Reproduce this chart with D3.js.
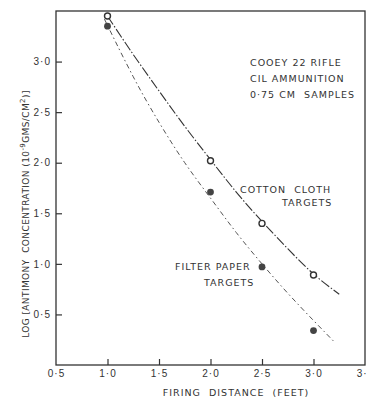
<!DOCTYPE html>
<html>
<head>
<meta charset="utf-8">
<script src="https://cdn.jsdelivr.net/npm/d3@7"></script>
<style>
  body { margin: 0; background: #fff; }
  svg { display: block; font-family: "DejaVu Sans", sans-serif; }
  .axis text { font-size: 10px; fill: #333; letter-spacing: 1px; }
  .axis line { stroke: #333; stroke-width: 1.2; }
  .note { font-size: 9.5px; fill: #333; letter-spacing: 1px; }
</style>
</head>
<body>
<div id="chart"></div>
<script>
// data
var distances = [1.0, 2.0, 2.5, 3.0];
var cottonValues = [3.45, 2.02, 1.40, 0.89];
var paperValues = [3.35, 1.71, 0.97, 0.34];

// fitted curves
var cottonFitX = [1.0, 1.25, 1.5, 1.75, 2.0, 2.25, 2.5, 2.75, 3.0, 3.25];
var cottonFitY = [3.45, 3.07, 2.71, 2.36, 2.03, 1.71, 1.42, 1.15, 0.90, 0.70];
var paperFitX = [0.97, 1.25, 1.5, 1.75, 2.0, 2.25, 2.5, 2.75, 3.0, 3.21];
var paperFitY = [3.42, 2.85, 2.40, 2.00, 1.65, 1.31, 1.00, 0.71, 0.44, 0.22];

var xTicks = [0.5, 1.0, 1.5, 2.0, 2.5, 3.0, 3.5];
var yTicks = [0.5, 1.0, 1.5, 2.0, 2.5, 3.0];

var width = 366, height = 400;

var svg = d3.select('#chart')
    .append('svg')
    .attr('width', width)
    .attr('height', height);

var x = d3.scaleLinear().domain([0.5, 3.5]).range([56, 365]);
var y = d3.scaleLinear().domain([0, 3.5]).range([365, 11]);

var fmt = function(d) { return d3.format('.1f')(d).replace('.', '\u00b7'); };

// frame
svg.append('rect')
    .attr('x', x(0.5))
    .attr('y', y(3.5))
    .attr('width', x(3.5) - x(0.5))
    .attr('height', y(0) - y(3.5))
    .attr('fill', 'none')
    .attr('stroke', '#333')
    .attr('stroke-width', 1.3);

var xAxis = svg.append('g')
    .attr('class', 'axis')
    .attr('transform', 'translate(0,' + y(0) + ')')
    .call(d3.axisBottom(x)
        .tickValues(xTicks)
        .tickSize(-6)
        .tickPadding(5)
        .tickFormat(fmt));
xAxis.select('.domain').remove();
xAxis.selectAll('.tick line').filter(function(d) { return d == 0.5 || d == 3.5; }).remove();

var yAxis = svg.append('g')
    .attr('class', 'axis')
    .attr('transform', 'translate(' + x(0.5) + ',0)')
    .call(d3.axisLeft(y)
        .tickValues(yTicks)
        .tickSize(-6)
        .tickPadding(5)
        .tickFormat(fmt));
yAxis.select('.domain').remove();

// curves
var line = d3.line()
    .x(function(d) { return x(d[0]); })
    .y(function(d) { return y(d[1]); })
    .curve(d3.curveNatural);

svg.append('path')
    .datum(d3.zip(cottonFitX, cottonFitY))
    .attr('d', line)
    .attr('fill', 'none')
    .attr('stroke', '#333')
    .attr('stroke-width', 1.1)
    .attr('stroke-dasharray', '10,2,1.5,2');

svg.append('path')
    .datum(d3.zip(paperFitX, paperFitY))
    .attr('d', line)
    .attr('fill', 'none')
    .attr('stroke', '#555')
    .attr('stroke-width', 1)
    .attr('stroke-dasharray', '5,3,1.5,3');

// points
svg.selectAll('circle.cotton')
    .data(d3.zip(distances, cottonValues))
    .enter()
    .append('circle')
    .attr('class', 'cotton')
    .attr('cx', function(d) { return x(d[0]); })
    .attr('cy', function(d) { return y(d[1]); })
    .attr('r', 3)
    .attr('fill', '#fff')
    .attr('stroke', '#333')
    .attr('stroke-width', 1.4);

svg.selectAll('circle.paper')
    .data(d3.zip(distances, paperValues))
    .enter()
    .append('circle')
    .attr('class', 'paper')
    .attr('cx', function(d) { return x(d[0]); })
    .attr('cy', function(d) { return y(d[1]); })
    .attr('r', 3.4)
    .attr('fill', '#444');

// notes
var notes = [
    ['COOEY 22 RIFLE', 250, 66],
    ['CIL AMMUNITION', 250, 82],
    ['0\u00b775 CM  SAMPLES', 250, 98],
    ['COTTON  CLOTH', 240, 193],
    ['TARGETS', 282, 206],
    ['FILTER PAPER', 175, 270],
    ['TARGETS', 204, 286]
];
svg.selectAll('text.note')
    .data(notes)
    .enter()
    .append('text')
    .attr('class', 'note')
    .attr('x', function(d) { return d[1]; })
    .attr('y', function(d) { return d[2]; })
    .attr('xml:space', 'preserve')
    .text(function(d) { return d[0]; });

// axis titles
svg.append('text')
    .attr('class', 'note')
    .attr('x', 236)
    .attr('y', 396)
    .attr('text-anchor', 'middle')
    .attr('xml:space', 'preserve')
    .text('FIRING  DISTANCE  (FEET)');

var yt = svg.append('text')
    .attr('class', 'note')
    .attr('transform', 'translate(29,214) rotate(-90)')
    .attr('text-anchor', 'middle')
    .style('font-size', '9px')
    .style('letter-spacing', '0.4px')
    .attr('xml:space', 'preserve');
yt.append('tspan').text('LOG [ANTIMONY  CONCENTRATION (10');
yt.append('tspan').attr('dy', -4).style('font-size', '7px').text('-9');
yt.append('tspan').attr('dy', 4).text('GMS/CM');
yt.append('tspan').attr('dy', -4).style('font-size', '7px').text('2');
yt.append('tspan').attr('dy', 4).text(')]');
</script>
</body>
</html>
